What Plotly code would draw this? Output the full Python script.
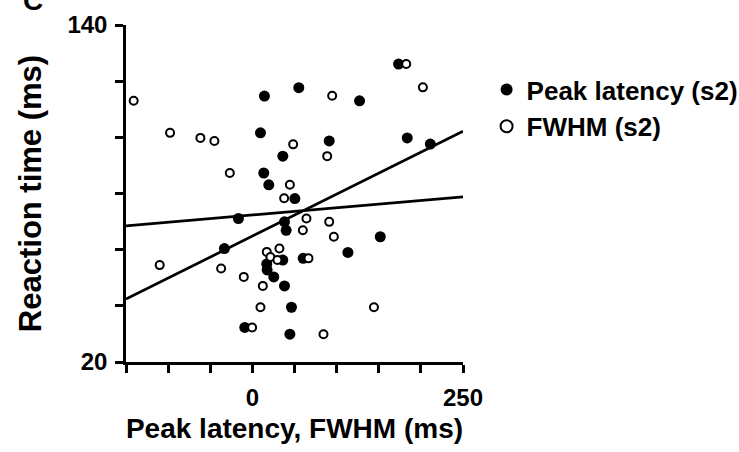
import plotly.graph_objects as go

# ---- data ----
peak_x = [173.5, 55.1, 14.3, 127.2, 9.6, 91.2, 183.8, 211.2, 36.1, 13.5, 19.5, 50.4,
          -16.6, 38.1, 40.1, 151.8, -33.2, 113.4, 36.1, 60.3, 17.1, 17.5, 25.4, 38.1,
          46.4, -9.0, 44.5]
peak_y = [126.1, 117.7, 114.7, 113.0, 101.6, 98.7, 99.8, 97.6, 93.3, 87.3, 83.1, 78.2,
          71.1, 69.9, 66.9, 64.6, 60.4, 59.0, 56.3, 56.9, 54.9, 52.8, 50.3, 47.1,
          39.5, 32.3, 29.9]

fwhm_x = [182.6, 202.4, -140.9, 94.7, -97.7, -61.7, -45.1, 48.4, 88.8, -26.8, 44.5,
          37.7, 64.2, 91.2, 59.9, 96.7, 17.1, 32.1, 21.4, 29.7, 66.6, -110.0, -37.1,
          -10.2, 12.4, 9.6, 144.3, -0.3, 84.4]
fwhm_y = [126.1, 117.8, 113.0, 114.8, 101.6, 99.8, 98.7, 97.5, 93.3, 87.3, 83.1,
          78.3, 71.1, 69.9, 66.9, 64.6, 59.2, 60.4, 57.4, 56.3, 56.9, 54.5, 53.3,
          50.3, 47.1, 39.5, 39.5, 32.3, 29.9]

fit_x = [-150, 250]
fit_peak_y = [42.4, 102.2]
fit_fwhm_y = [68.5, 78.8]

x_tickvals = [-150, -100, -50, 0, 50, 100, 150, 200, 250]
x_ticktext = ["", "", "", "0", "", "", "", "", "250"]
y_tickvals = [20, 40, 60, 80, 100, 120, 140]
y_ticktext = ["20", "", "", "", "", "", "140"]

FONT = "Liberation Sans, Arial, sans-serif"

fig = go.Figure()
fig.add_trace(go.Scatter(x=fit_x, y=fit_peak_y, mode="lines",
                         line=dict(color="black", width=2.7), showlegend=False))
fig.add_trace(go.Scatter(x=fit_x, y=fit_fwhm_y, mode="lines",
                         line=dict(color="black", width=2.7), showlegend=False))
fig.add_trace(go.Scatter(x=peak_x, y=peak_y, mode="markers", name="Peak latency (s2)",
                         marker=dict(symbol="circle", size=11, color="black",
                                     line=dict(color="black", width=0))))
fig.add_trace(go.Scatter(x=fwhm_x, y=fwhm_y, mode="markers", name="FWHM (s2)",
                         marker=dict(symbol="circle", size=8, color="white",
                                     line=dict(color="black", width=2))))

fig.update_layout(
    width=739, height=452,
    margin=dict(l=126, r=276, t=25, b=90, autoexpand=False),
    paper_bgcolor="white", plot_bgcolor="white",
    font=dict(family=FONT, color="black", size=22, weight="bold"),
    showlegend=True,
    legend=dict(x=1.07, y=0.878, xanchor="left", yanchor="top",
                font=dict(family=FONT, size=26, color="black", weight="bold"),
                itemsizing="constant", bgcolor="rgba(0,0,0,0)", borderwidth=0,
                tracegroupgap=0),
    annotations=[dict(text="C", xref="paper", yref="paper", x=-0.276, y=1.02,
                      xanchor="center", yanchor="bottom", showarrow=False,
                      font=dict(family=FONT, size=28, color="black", weight="bold"))],
)

fig.update_xaxes(
    range=[-150, 250], tickmode="array", tickvals=x_tickvals, ticktext=x_ticktext,
    showgrid=False, zeroline=False, showline=True, linecolor="black", linewidth=2.5,
    ticks="outside", ticklen=8, tickwidth=2.5, tickcolor="black",
    ticklabelstandoff=4,
    tickfont=dict(family=FONT, size=24, color="black", weight="bold"),
    title=dict(text="Peak latency, FWHM (ms)", standoff=9,
               font=dict(family=FONT, size=28, color="black", weight="bold")),
)
fig.update_yaxes(
    range=[20, 140], tickmode="array", tickvals=y_tickvals, ticktext=y_ticktext,
    showgrid=False, zeroline=False, showline=True, linecolor="black", linewidth=2.5,
    ticks="outside", ticklen=8, tickwidth=2.5, tickcolor="black",
    ticklabelstandoff=3,
    tickfont=dict(family=FONT, size=24, color="black", weight="bold"),
    title=dict(text="Reaction time (ms)", standoff=17,
               font=dict(family=FONT, size=31, color="black", weight="bold")),
)

fig.write_html("out.html")
